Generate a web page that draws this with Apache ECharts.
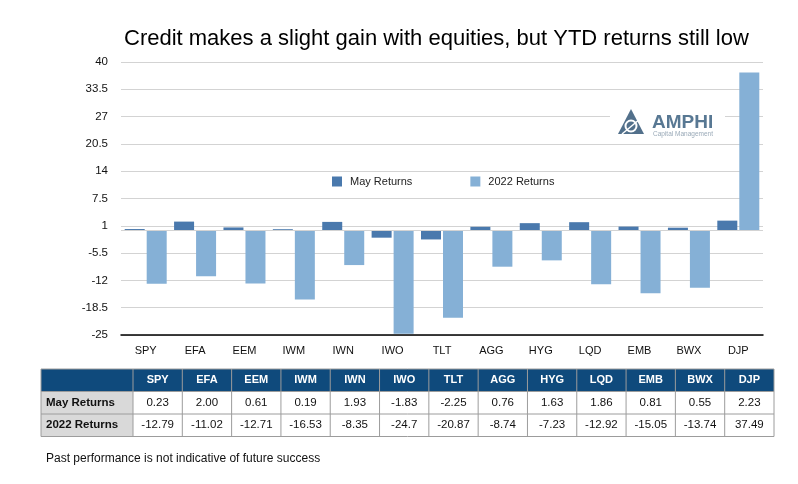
<!DOCTYPE html>
<html>
<head>
<meta charset="utf-8">
<script src="https://cdn.jsdelivr.net/npm/echarts@6/dist/echarts.min.js"></script>
<style>
html,body{margin:0;padding:0;background:#fff;}
#chart{width:798px;height:484px;}
</style>
</head>
<body>
<div id="chart"></div>
<script>
var categories = ['SPY','EFA','EEM','IWM','IWN','IWO','TLT','AGG','HYG','LQD','EMB','BWX','DJP'];
var mayText = ['0.23','2.00','0.61','0.19','1.93','-1.83','-2.25','0.76','1.63','1.86','0.81','0.55','2.23'];
var ytdText = ['-12.79','-11.02','-12.71','-16.53','-8.35','-24.7','-20.87','-8.74','-7.23','-12.92','-15.05','-13.74','37.49'];
var mayValues = mayText.map(Number);
var ytdValues = ytdText.map(Number);
var seriesNames = ['May Returns','2022 Returns'];
var yMin = -25, yMax = 40, yStep = 6.5;

var FONT = 'Liberation Sans, Arial, Helvetica, sans-serif';
var chart = echarts.init(document.getElementById('chart'));

// table graphic
var tX = 41, tY = 369, firstW = 92, colW = (774 - 133) / 13, rowH = 22.5;
var tW = firstW + colW * categories.length;
var g = [];
g.push({type:'rect', shape:{x:tX,y:tY,width:tW,height:rowH}, style:{fill:'#0f4a7c'}, silent:true});
g.push({type:'rect', shape:{x:tX,y:tY+rowH,width:firstW,height:rowH*2}, style:{fill:'#d9d9d9'}, silent:true});
g.push({type:'rect', shape:{x:tX+firstW,y:tY+rowH,width:tW-firstW,height:rowH*2}, style:{fill:'#ffffff'}, silent:true});
for (var r = 0; r <= 3; r++) {
  g.push({type:'line', shape:{x1:tX,y1:tY+r*rowH,x2:tX+tW,y2:tY+r*rowH}, style:{stroke:'#9c9c9c',lineWidth:1}, silent:true});
}
g.push({type:'line', shape:{x1:tX,y1:tY,x2:tX,y2:tY+3*rowH}, style:{stroke:'#9c9c9c',lineWidth:1}, silent:true});
for (var c = 0; c <= categories.length; c++) {
  var xx = tX + firstW + c * colW;
  g.push({type:'line', shape:{x1:xx,y1:tY,x2:xx,y2:tY+3*rowH}, style:{stroke:'#9c9c9c',lineWidth:1}, silent:true});
}
categories.forEach(function(cat, i){
  var cx = tX + firstW + (i + 0.5) * colW;
  g.push({type:'text', x:cx, y:tY+rowH/2, style:{text:cat, fill:'#ffffff', font:'bold 11px '+FONT, textAlign:'center', textVerticalAlign:'middle'}, silent:true});
  g.push({type:'text', x:cx, y:tY+rowH*1.5, style:{text:mayText[i], fill:'#111', font:'11.5px '+FONT, textAlign:'center', textVerticalAlign:'middle'}, silent:true});
  g.push({type:'text', x:cx, y:tY+rowH*2.5, style:{text:ytdText[i], fill:'#111', font:'11.5px '+FONT, textAlign:'center', textVerticalAlign:'middle'}, silent:true});
});
g.push({type:'text', x:tX+5, y:tY+rowH*1.5, style:{text:seriesNames[0], fill:'#111', font:'bold 11.5px '+FONT, textAlign:'left', textVerticalAlign:'middle'}, silent:true});
g.push({type:'text', x:tX+5, y:tY+rowH*2.5, style:{text:seriesNames[1], fill:'#111', font:'bold 11.5px '+FONT, textAlign:'left', textVerticalAlign:'middle'}, silent:true});

// footer
g.push({type:'text', x:46, y:459, style:{text:'Past performance is not indicative of future success', fill:'#111', font:'12px '+FONT, textAlign:'left', textVerticalAlign:'middle'}, silent:true});

// logo
g.push({type:'rect', shape:{x:610,y:105,width:115,height:35}, style:{fill:'#ffffff'}, z:10, silent:true});
g.push({type:'polygon', shape:{points:[[631,109],[644,134],[618,134]]}, style:{fill:'#52708b'}, z:11, silent:true});
g.push({type:'circle', shape:{cx:631,cy:126,r:5.5}, style:{fill:'none', stroke:'#ffffff', lineWidth:2}, z:12, silent:true});
g.push({type:'line', shape:{x1:622,y1:134,x2:640,y2:119}, style:{stroke:'#ffffff', lineWidth:1.5}, z:12, silent:true});
g.push({type:'text', x:652, y:123, style:{text:'AMPHI', fill:'#587893', font:'bold 19px '+FONT, textAlign:'left', textVerticalAlign:'middle'}, z:11, silent:true});
g.push({type:'text', x:653, y:134, style:{text:'Capital Management', fill:'#9aaab8', font:'6.5px '+FONT, textAlign:'left', textVerticalAlign:'middle'}, z:11, silent:true});

var option = {
  animation: false,
  backgroundColor: '#ffffff',
  title: {
    text: 'Credit makes a slight gain with equities, but YTD returns still low',
    left: 124, top: 28, padding: 0,
    textStyle: {fontFamily: FONT, fontSize: 22, fontWeight: 'normal', color: '#000'}
  },
  legend: {
    data: seriesNames,
    left: 332, top: 176, padding: 0,
    itemWidth: 10, itemHeight: 10, itemGap: 58,
    icon: 'rect',
    textStyle: {fontFamily: FONT, fontSize: 11, color: '#222', padding:[0,0,0,3]}
  },
  grid: {left: 121, right: 35, top: 62, bottom: 149, containLabel: false},
  xAxis: {
    type: 'category',
    data: categories,
    axisLine: {show: true, onZero: false, lineStyle: {color: '#000', width: 1.5}},
    axisTick: {show: false},
    axisLabel: {fontFamily: FONT, fontSize: 11, color: '#111', margin: 10}
  },
  yAxis: {
    type: 'value',
    min: yMin, max: yMax, interval: yStep,
    axisLine: {show: false},
    axisTick: {show: false},
    axisLabel: {fontFamily: FONT, fontSize: 11.5, color: '#111', margin: 13},
    splitLine: {show: true, lineStyle: {color: '#d3d3d3', width: 1}}
  },
  series: [
    {
      name: seriesNames[0], type: 'bar', data: mayValues,
      barWidth: 20, barGap: '10%',
      itemStyle: {color: '#4a79ad'},
      markLine: {
        silent: true, symbol: 'none', label: {show: false},
        lineStyle: {color: '#d3d3d3', type: 'solid', width: 1},
        data: [{yAxis: 0}]
      }
    },
    {
      name: seriesNames[1], type: 'bar', data: ytdValues,
      barWidth: 20,
      itemStyle: {color: '#85b0d6'}
    }
  ],
  graphic: g
};
chart.setOption(option);
</script>
</body>
</html>
